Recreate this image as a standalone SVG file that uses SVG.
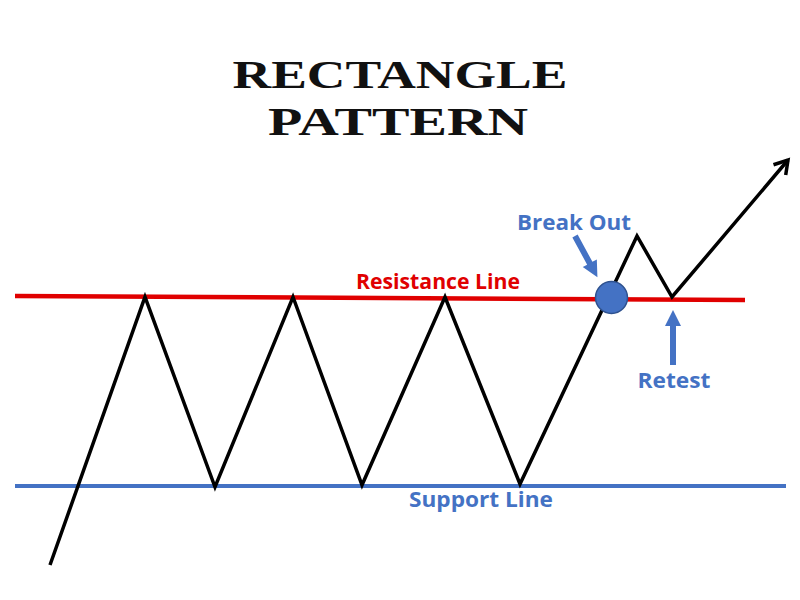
<svg xmlns="http://www.w3.org/2000/svg" width="800" height="600" viewBox="0 0 800 600">
<style>
.title{font-family:"Liberation Serif",serif;font-weight:bold;font-size:40px;fill:#111}
.lbl{font-family:"Open Sans","Liberation Sans",sans-serif;font-weight:bold;font-size:22px}
.blue{fill:#4472C4}
.red{fill:#E00000}
.zig{fill:none;stroke:#000;stroke-width:3.5;stroke-linejoin:miter}
</style>
<defs>
<marker id="chev" viewBox="0 0 20 20" refX="16" refY="10" markerWidth="20" markerHeight="20" markerUnits="userSpaceOnUse" orient="auto">
<path d="M3,2 L16,10 L3,18" fill="none" stroke="#000" stroke-width="3.5"/>
</marker>
</defs>
<rect width="800" height="600" fill="#fff"/>
<g id="title">
<text class="title" x="400" y="88" text-anchor="middle" textLength="335" lengthAdjust="spacingAndGlyphs">RECTANGLE</text>
<text class="title" x="398" y="135" text-anchor="middle" textLength="260" lengthAdjust="spacingAndGlyphs">PATTERN</text>
</g>
<g id="resistance-line">
<line x1="15" y1="296" x2="745" y2="300" stroke="#E00000" stroke-width="4.5"/>
<text class="lbl red" x="438" y="289" text-anchor="middle" textLength="164" lengthAdjust="spacingAndGlyphs">Resistance Line</text>
</g>
<g id="support-line">
<line x1="15" y1="486" x2="786" y2="486" stroke="#4472C4" stroke-width="4"/>
<text class="lbl blue" x="481" y="507" text-anchor="middle" textLength="144" lengthAdjust="spacingAndGlyphs">Support Line</text>
</g>
<g id="connectors">
<polyline class="zig" points="50,565 145,297 215,487 293,297 362,485 445,297 520,484 637,236 672,297 788,160" marker-end="url(#chev)"/>
</g>
<g id="breakout">
<circle cx="611.5" cy="297.5" r="16" fill="#4472C4" stroke="#2F528F" stroke-width="1.5"/>
<text class="lbl blue" x="574" y="230" text-anchor="middle" textLength="114" lengthAdjust="spacingAndGlyphs">Break Out</text>
<path d="M0,-3 L31,-3 L31,-8 L47,0 L31,8 L31,3 L0,3 Z" fill="#4472C4" transform="translate(575,236) rotate(61.5)"/>
</g>
<g id="retest">
<path d="M0,-3 L39,-3 L39,-8 L55,0 L39,8 L39,3 L0,3 Z" fill="#4472C4" transform="translate(673,365) rotate(-90)"/>
<text class="lbl blue" x="674" y="388" text-anchor="middle" textLength="73" lengthAdjust="spacingAndGlyphs">Retest</text>
</g>
</svg>
